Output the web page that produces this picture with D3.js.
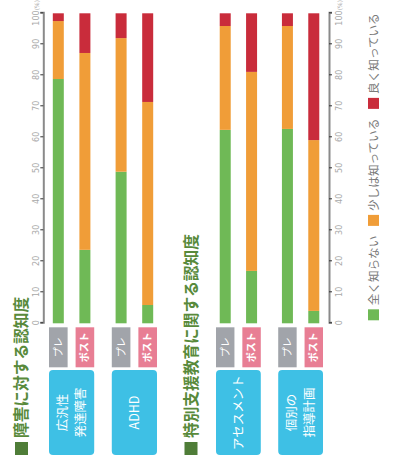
<!DOCTYPE html>
<html>
<head>
<meta charset="utf-8">
<script src="https://cdn.jsdelivr.net/npm/d3@7"></script>
<style>
  body { margin: 0; background: #fff; }
  svg { display: block; font-family: "Noto Sans CJK JP", "Noto Sans", sans-serif; }
</style>
</head>
<body>
<div id="chartWrapper"></div>
<script>
// data (values in %, order: cat1 pre, cat1 post, cat2 pre, cat2 post)
var phases = ["プレ", "ポスト"];
var levels = ["全く知らない", "少しは知っている", "良く知っている"];
var tickVals = [0, 10, 20, 30, 40, 50, 60, 70, 80, 90, 100];

var disCats = ["広汎性発達障害", "ADHD"];
var disLines = [["広汎性", "発達障害"], ["ADHD"]];
var disNone = [78.8, 23.7, 48.9, 5.9];
var disLittle = [18.7, 63.5, 43.1, 65.5];
var disWell = [2.5, 12.8, 8.0, 28.6];

var speCats = ["アセスメント", "個別の指導計画"];
var speLines = [["アセスメント"], ["個別の", "指導計画"]];
var speNone = [62.4, 16.9, 62.7, 4.0];
var speLittle = [33.5, 64.2, 33.2, 55.1];
var speWell = [4.1, 18.9, 4.1, 40.9];

var canvasW = 395, canvasH = 465;
var colors = ["#6fb956", "#f09d38", "#c92c3b"];
var phaseColors = ["#a1a4aa", "#e87e94"];
var titleColor = "#588a3b";

var svg = d3.select("#chartWrapper").append("svg")
  .attr("width", canvasW)
  .attr("height", canvasH);

// whole chart is drawn sideways: inner frame is 465 wide, 395 tall
var root = svg.append("g")
  .attr("transform", "translate(0," + canvasH + ") rotate(-90)");

var x = d3.scaleLinear().domain([0, 100]).range([141.7, 451.7]);
var barH = 11;

function drawPanel(p) {
  var g = root.append("g");

  // title
  g.append("rect")
    .attr("x", 10).attr("y", p.titleY - 6.5)
    .attr("width", 13).attr("height", 13)
    .attr("fill", "#4f7d38");
  g.append("text")
    .attr("x", 27).attr("y", p.titleY)
    .attr("dy", "0.36em")
    .style("font-size", "15.7px")
    .style("font-weight", "bold")
    .attr("fill", titleColor)
    .text(p.title);

  var yCat = d3.scaleBand().domain(p.cats).range(p.band).paddingInner(0.28);
  var yPh = d3.scaleBand().domain(phases).range([0, yCat.bandwidth()]).paddingInner(0.3);

  var rows = [];
  p.cats.forEach(function(c, i) {
    phases.forEach(function(ph, j) {
      var k = i * 2 + j;
      rows.push({cat: c, phase: ph, none: p.none[k], little: p.little[k], well: p.well[k]});
    });
  });

  var stack = d3.stack().keys(["none", "little", "well"]);
  var series = stack(rows);

  g.selectAll(".layer")
    .data(series)
    .enter().append("g")
    .attr("class", "layer")
    .attr("fill", function(d, i) { return colors[i]; })
    .selectAll("rect")
    .data(function(d) { return d; })
    .enter().append("rect")
    .attr("x", function(d) { return x(d[0]); })
    .attr("width", function(d) { return x(d[1]) - x(d[0]); })
    .attr("y", function(d) { return yCat(d.data.cat) + yPh(d.data.phase) + (yPh.bandwidth() - barH) / 2; })
    .attr("height", barH);

  // pre / post tags
  var tags = g.selectAll(".tag")
    .data(rows)
    .enter().append("g")
    .attr("class", "tag")
    .attr("transform", function(d) {
      return "translate(" + (x(0) - 44) + "," + (yCat(d.cat) + yPh(d.phase)) + ")";
    });
  tags.append("rect")
    .attr("width", 40)
    .attr("height", yPh.bandwidth())
    .attr("fill", function(d) { return phaseColors[phases.indexOf(d.phase)]; });
  tags.append("text")
    .attr("x", 20).attr("y", yPh.bandwidth() / 2)
    .attr("dy", "0.36em")
    .attr("text-anchor", "middle")
    .attr("fill", "#fff")
    .style("font-size", "10px")
    .style("font-weight", function(d) { return d.phase == "ポスト" ? "bold" : "normal"; })
    .text(function(d) { return d.phase; });

  // category boxes
  var boxes = g.selectAll(".catBox")
    .data(p.cats)
    .enter().append("g")
    .attr("class", "catBox")
    .attr("transform", function(d) { return "translate(10," + yCat(d) + ")"; });
  boxes.append("rect")
    .attr("width", 85)
    .attr("height", yCat.bandwidth())
    .attr("rx", 4).attr("ry", 4)
    .attr("fill", "#3ec0e5");
  boxes.each(function(d, i) {
    var lines = p.lines[i];
    var lh = 17.5;
    var t = d3.select(this).append("text")
      .attr("text-anchor", "middle")
      .attr("fill", "#fff")
      .style("font-size", "12.5px");
    lines.forEach(function(l, n) {
      t.append("tspan")
        .attr("x", 42.5)
        .attr("y", yCat.bandwidth() / 2 + (n - (lines.length - 1) / 2) * lh)
        .attr("dy", "0.36em")
        .text(l);
    });
  });

  // value axis
  var axis = (p.side == "top" ? d3.axisTop(x) : d3.axisBottom(x))
    .tickValues(tickVals)
    .tickSizeOuter(0)
    .tickSize(3)
    .tickPadding(p.side == "top" ? 1 : 4);
  var ax = g.append("g")
    .attr("transform", "translate(0," + p.axisY + ")")
    .call(axis);
  ax.select(".domain").attr("stroke", "#8a8a8a").attr("stroke-width", 2);
  ax.selectAll(".tick line").attr("stroke", "#333");
  ax.selectAll(".tick text")
    .attr("fill", "#a8a8a8")
    .style("font-size", "8px")
    .style("font-family", "'DejaVu Sans', sans-serif");
  ax.selectAll(".tick text")
    .filter(function(d) { return d == 100; })
    .text("100")
    .append("tspan")
    .style("font-size", "6px")
    .text("(%)");
}

drawPanel({
  title: "障害に対する認知度", titleY: 21.5,
  cats: disCats, lines: disLines,
  none: disNone, little: disLittle, well: disWell,
  band: [49, 157], axisY: 43.3, side: "top"
});

drawPanel({
  title: "特別支援教育に関する認知度", titleY: 191,
  cats: speCats, lines: speLines,
  none: speNone, little: speLittle, well: speWell,
  band: [216, 323], axisY: 329, side: "bottom"
});

// legend, spread over the value range
var legY = 373.5;
var leg = root.append("g").attr("class", "legend");
var items = leg.selectAll(".leg")
  .data(levels)
  .enter().append("g")
  .attr("class", "leg");
items.append("rect")
  .attr("y", legY - 5.5)
  .attr("width", 11).attr("height", 11)
  .attr("fill", function(d, i) { return colors[i]; });
items.append("text")
  .attr("x", 15).attr("y", legY)
  .attr("dy", "0.36em")
  .attr("fill", "#7a7a7a")
  .style("font-size", "11.6px")
  .text(function(d) { return d; });

var widths = [];
items.each(function() { widths.push(this.getBBox().width); });
var start = x(0) + 3, end = x(100);
var gap = (end - start - d3.sum(widths)) / (widths.length - 1);
var pos = start;
items.attr("transform", function(d, i) {
  var t = "translate(" + pos + ",0)";
  pos += widths[i] + gap;
  return t;
});
</script>
</body>
</html>
